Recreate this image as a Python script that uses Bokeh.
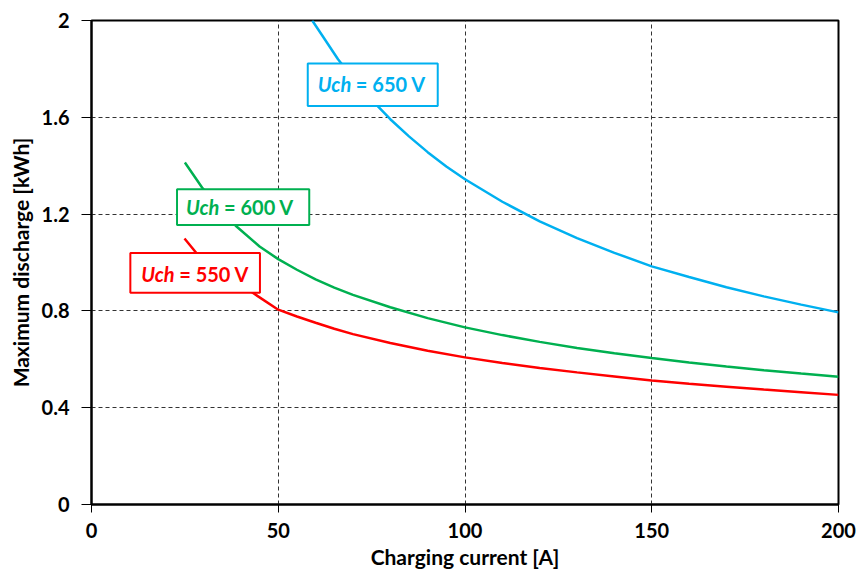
from bokeh.plotting import figure
from bokeh.models import Range1d, FixedTicker, BoxAnnotation, Label
from bokeh.embed import file_html
from bokeh.resources import INLINE

# ---- data ----
x_550 = [24.9, 28.3, 44.4, 50, 55, 60, 65, 70, 80, 90, 100, 110, 120, 130, 140, 150,
         160, 170, 180, 190, 200]
y_550 = [1.099, 1.035, 0.862, 0.805, 0.777, 0.751, 0.726, 0.704, 0.667, 0.635, 0.608,
         0.585, 0.564, 0.546, 0.529, 0.512, 0.499, 0.487, 0.475, 0.464, 0.453]

x_600 = [25.0, 29.6, 38.6, 45, 50, 55, 60, 65, 70, 80, 90, 100, 110, 120, 130, 140, 150,
         160, 170, 180, 190, 200]
y_600 = [1.413, 1.31, 1.152, 1.066, 1.014, 0.970, 0.930, 0.896, 0.866, 0.815, 0.770,
         0.732, 0.700, 0.672, 0.647, 0.625, 0.605, 0.587, 0.570, 0.555, 0.541, 0.528]

x_650 = [59.1, 62, 66, 70, 75, 80, 85, 90, 95, 100, 110, 120, 130, 140, 150, 160, 170,
         180, 190, 200]
y_650 = [2.0, 1.933, 1.84, 1.762, 1.672, 1.592, 1.521, 1.456, 1.397, 1.344, 1.251, 1.170,
         1.101, 1.040, 0.984, 0.940, 0.898, 0.860, 0.826, 0.794]

series_names = ["= 550 V", "= 600 V", "= 650 V"]
series_colors = ["#FF0000", "#00B050", "#00B0F0"]

x_ticks = [0, 50, 100, 150, 200]
y_ticks = [0, 0.4, 0.8, 1.2, 1.6, 2]
y_tick_labels = ["0", "0.4", "0.8", "1.2", "1.6", "2"]

x_title = "Charging current [A]"
y_title = "Maximum discharge [kWh]"

FONT = "Lato"

p = figure(width=858, height=577, output_backend="svg", toolbar_location=None,
           x_range=Range1d(0, 200), y_range=Range1d(0, 2),
           min_border_left=91, min_border_right=20, min_border_top=20, min_border_bottom=73)
p.background_fill_color = "white"
p.border_fill_color = "white"
p.outline_line_color = "black"
p.outline_line_width = 2

for ax in (p.xaxis[0], p.yaxis[0]):
    ax.axis_line_color = "black"
    ax.axis_line_width = 2
    ax.major_tick_line_color = "black"
    ax.major_tick_line_width = 1
    ax.major_tick_in = 0
    ax.minor_tick_line_color = None
    ax.major_label_text_font = FONT
    ax.major_label_text_font_style = "bold"
    ax.major_label_text_font_size = "20px"
    ax.major_label_text_color = "black"
    ax.axis_label_text_font = FONT
    ax.axis_label_text_font_style = "bold"
    ax.axis_label_text_font_size = "21px"
    ax.axis_label_text_color = "black"

p.xaxis.ticker = FixedTicker(ticks=x_ticks)
p.yaxis.ticker = FixedTicker(ticks=y_ticks)
p.yaxis.major_label_overrides = {t: s for t, s in zip(y_ticks, y_tick_labels)}
p.xaxis.axis_label = x_title
p.yaxis.axis_label = y_title
p.xaxis.major_tick_out = 8
p.yaxis.major_tick_out = 10
p.xaxis.major_label_standoff = 10
p.yaxis.major_label_standoff = 12
p.xaxis.axis_label_standoff = 3
p.yaxis.axis_label_standoff = 6

p.xgrid.ticker = FixedTicker(ticks=x_ticks)
p.ygrid.ticker = FixedTicker(ticks=y_ticks)
for g in (p.xgrid[0], p.ygrid[0]):
    g.grid_line_color = "#333333"
    g.grid_line_dash = "4 3"
    g.grid_line_width = 1

for xs, ys, c in [(x_550, y_550, series_colors[0]), (x_600, y_600, series_colors[1]),
                  (x_650, y_650, series_colors[2])]:
    p.line(xs, ys, line_color=c, line_width=2.5)

# label boxes (annotation positions in data units)
boxes = [
    (10.4, 45.1, 0.875, 1.039, 13.3, 0.953),
    (22.9, 58.3, 1.155, 1.303, 25.3, 1.229),
    (57.9, 92.7, 1.647, 1.822, 60.6, 1.737),
]
for (l, r, b, t, tx, ty), name, c in zip(boxes, series_names, series_colors):
    p.add_layout(BoxAnnotation(left=l, right=r, bottom=b, top=t, fill_color="white",
                               fill_alpha=1.0, line_color=c, line_width=2, line_alpha=1.0))
    p.add_layout(Label(x=tx, y=ty, text="Uch", text_font=FONT, text_font_style="bold italic",
                       text_font_size="20px", text_color=c, text_baseline="middle",
                       text_align="left"))
    p.add_layout(Label(x=tx, y=ty, x_offset=38, text=name, text_font=FONT,
                       text_font_style="bold", text_font_size="20px", text_color=c,
                       text_baseline="middle", text_align="left"))

open("out.html", "w").write(file_html(p, INLINE))
